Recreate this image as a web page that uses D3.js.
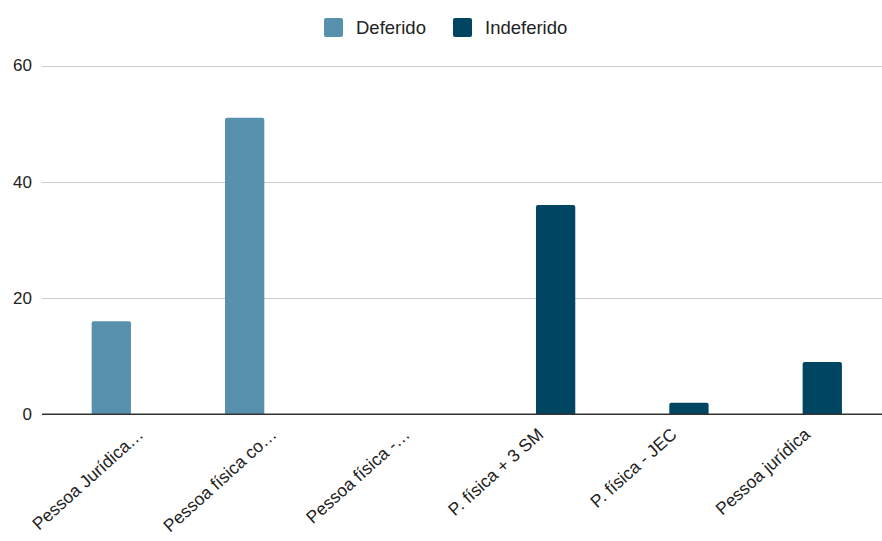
<!DOCTYPE html>
<html>
<head>
<meta charset="utf-8">
<script src="https://cdn.jsdelivr.net/npm/d3@7"></script>
<style>
  body { margin: 0; background: #fff; }
  svg { display: block; font-family: "Liberation Sans", Arial, sans-serif; }
</style>
</head>
<body>
<div id="chart"></div>
<script>
// data
const categories = ["Pessoa Jurídica…", "Pessoa física co…", "Pessoa física  -…", "P. física + 3 SM", "P. física - JEC", "Pessoa jurídica"];
const seriesNames = ["Deferido", "Indeferido"];
const deferido = [16, 51, 0, 0, 0, 0];
const indeferido = [0, 0, 0, 36, 2, 9];
const yTicks = [0, 20, 40, 60];
const colors = ["#5891ad", "#004561"];

const width = 882, height = 541;
const plotLeft = 42, plotRight = 882;

const svg = d3.select("#chart").append("svg")
    .attr("width", width)
    .attr("height", height);

const y = d3.scaleLinear()
    .domain([0, 60])
    .range([414.3, 65.5]);

const x0 = d3.scaleBand()
    .domain(categories)
    .range([66.8, 866.8])
    .paddingInner(0.373)
    .paddingOuter(0.1865);

const x1 = d3.scaleBand()
    .domain(seriesNames)
    .range([0, x0.bandwidth()])
    .paddingInner(0.113);

const color = d3.scaleOrdinal().domain(seriesNames).range(colors);

// gridlines
svg.append("g")
    .selectAll("line")
    .data(yTicks.filter(d => d !== 0))
    .join("line")
    .attr("x1", plotLeft)
    .attr("x2", plotRight)
    .attr("y1", d => Math.round(y(d)) + 0.5)
    .attr("y2", d => Math.round(y(d)) + 0.5)
    .attr("stroke", "#cccccc")
    .attr("stroke-width", 1);

// y labels
svg.append("g")
    .selectAll("text")
    .data(yTicks)
    .join("text")
    .attr("x", 32)
    .attr("y", d => y(d))
    .attr("dy", "0.35em")
    .attr("text-anchor", "end")
    .attr("font-size", 17)
    .attr("fill", "#222")
    .text(d => d);

// bars
const rows = categories.map((c, i) => ({ cat: c, values: [deferido[i], indeferido[i]] }));

function roundTop(x, yTop, w, yBase, r) {
    const h = yBase - yTop;
    r = Math.min(r, h, w / 2);
    return `M${x},${yBase}V${yTop + r}Q${x},${yTop} ${x + r},${yTop}H${x + w - r}Q${x + w},${yTop} ${x + w},${yTop + r}V${yBase}Z`;
}

svg.append("g")
    .selectAll("g")
    .data(rows)
    .join("g")
    .attr("transform", d => `translate(${x0(d.cat)},0)`)
    .selectAll("path")
    .data(d => d.values.map((v, i) => ({ key: seriesNames[i], value: v })).filter(d => d.value > 0))
    .join("path")
    .attr("d", d => roundTop(x1(d.key), y(d.value), x1.bandwidth(), y(0), 2))
    .attr("fill", d => color(d.key));

// zero axis line
svg.append("line")
    .attr("x1", plotLeft)
    .attr("x2", plotRight)
    .attr("y1", y(0))
    .attr("y2", y(0))
    .attr("stroke", "#333")
    .attr("stroke-width", 1.5);

// x labels, rotated
svg.append("g")
    .selectAll("text")
    .data(categories)
    .join("text")
    .attr("transform", d => `translate(${x0(d) + x0.bandwidth() / 2 + 11},${436}) rotate(-42)`)
    .attr("text-anchor", "end")
    .attr("font-size", 17.5)
    .attr("fill", "#222")
    .text(d => d);

// legend
const legend = svg.append("g");
const legendX = [324, 453];
seriesNames.forEach((s, i) => {
    legend.append("rect")
        .attr("x", legendX[i])
        .attr("y", 18)
        .attr("width", 19)
        .attr("height", 19)
        .attr("rx", 2)
        .attr("fill", colors[i]);
    legend.append("text")
        .attr("x", legendX[i] + 32)
        .attr("y", 27.5)
        .attr("dy", "0.35em")
        .attr("font-size", 18.5)
        .attr("fill", "#222")
        .text(s);
});
</script>
</body>
</html>
